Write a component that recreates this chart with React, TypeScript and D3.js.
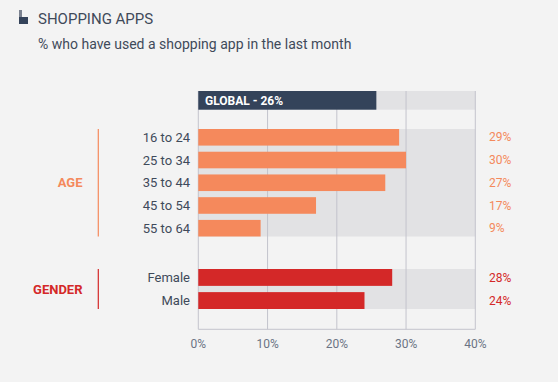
import React from "react";
import * as d3 from "d3";

const ageCategories = ["16 to 24", "25 to 34", "35 to 44", "45 to 54", "55 to 64"];
const ageValues = [29, 30, 27, 17, 9];
const genderCategories = ["Female", "Male"];
const genderValues = [28, 24];
const globalValue = 26;
const xTicks = [0, 10, 20, 30, 40];

const FONT = "Roboto, 'Open Sans', sans-serif";
const DARK = "#34435a";
const TEXT = "#3f4a5a";
const ORANGE = "#f5895c";
const RED = "#d42828";
const TRACK = "#e2e2e4";
const GRID = "#c3c4cc";

export default function App() {
  const W = 558, H = 382;
  const x = d3.scaleLinear().domain([0, 40]).range([198.3, 475.3]);

  const ageY = d3.scaleBand<string>().domain(ageCategories).range([129, 236.5]).paddingInner(0.27).paddingOuter(0);
  const genY = d3.scaleBand<string>().domain(genderCategories).range([269, 309]).paddingInner(0.27).paddingOuter(0);

  const gridTop = 91;
  const axisY = 329.3;

  const groups = [
    { name: "AGE", cats: ageCategories, vals: ageValues, y: ageY, color: ORANGE, labelColor: "#f4895c", range: [129, 236.5] },
    { name: "GENDER", cats: genderCategories, vals: genderValues, y: genY, color: RED, labelColor: RED, range: [269, 309] },
  ];

  return (
    <div style={{ position: "absolute", left: 0, top: 0 }}>
      <svg width={W} height={H} style={{ display: "block", background: "#f3f3f3", fontFamily: FONT }}>
        <rect x={0} y={0} width={W} height={H} fill="#f3f3f3" />
        {/* title icon */}
        <rect x={19} y={10} width={3} height={14} fill="#7b8290" />
        <rect x={19} y={17} width={9} height={7} fill={DARK} />
        <text x={38} y={24} fontSize={15} fill={TEXT}>SHOPPING APPS</text>
        <text x={38} y={49} fontSize={14} fill={TEXT}>% who have used a shopping app in the last month</text>

        {/* tracks */}
        <rect x={x(0)} y={91} width={x(40) - x(0)} height={18.7} fill={TRACK} />
        {groups.map((g) => (
          <rect key={g.name + "track"} x={x(0)} y={g.range[0]} width={x(40) - x(0)} height={g.range[1] - g.range[0]} fill={TRACK} />
        ))}

        {/* grid lines */}
        {xTicks.map((t) => (
          <line key={"g" + t} x1={x(t)} x2={x(t)} y1={gridTop} y2={axisY} stroke={GRID} strokeWidth={1} />
        ))}
        <line x1={x(0)} x2={x(40)} y1={axisY} y2={axisY} stroke={GRID} strokeWidth={1} />

        {/* global bar */}
        <rect x={x(0)} y={91} width={x(globalValue) - 2 - x(0)} height={18.7} fill={DARK} />
        <text x={205} y={104.5} fontSize={12} fontWeight={700} fill="#ffffff">GLOBAL - {globalValue}%</text>

        {groups.map((g) => (
          <g key={g.name}>
            {g.cats.map((c, i) => (
              <g key={c}>
                <rect x={x(0)} y={g.y(c)!} width={x(g.vals[i]) - x(0)} height={g.y.bandwidth()} fill={g.color} />
                <text x={190} y={g.y(c)! + g.y.bandwidth() / 2} dy="0.35em" textAnchor="end" fontSize={13} fill={TEXT}>{c}</text>
                <text x={489} y={g.y(c)! + g.y.bandwidth() / 2} dy="0.35em" fontSize={12} fill={g.labelColor}>{g.vals[i]}%</text>
              </g>
            ))}
            <line x1={98.3} x2={98.3} y1={g.range[0]} y2={g.range[1]} stroke={g.color} strokeWidth={1.2} />
            <text x={82.5} y={(g.range[0] + g.range[1]) / 2} dy="0.35em" textAnchor="end" fontSize={13} fontWeight={700} fill={g.labelColor}>{g.name}</text>
          </g>
        ))}

        {/* x tick labels */}
        {xTicks.map((t) => (
          <text key={"t" + t} x={x(t)} y={347.5} textAnchor="middle" fontSize={12} fill="#6b7384">{t}%</text>
        ))}
      </svg>
    </div>
  );
}
